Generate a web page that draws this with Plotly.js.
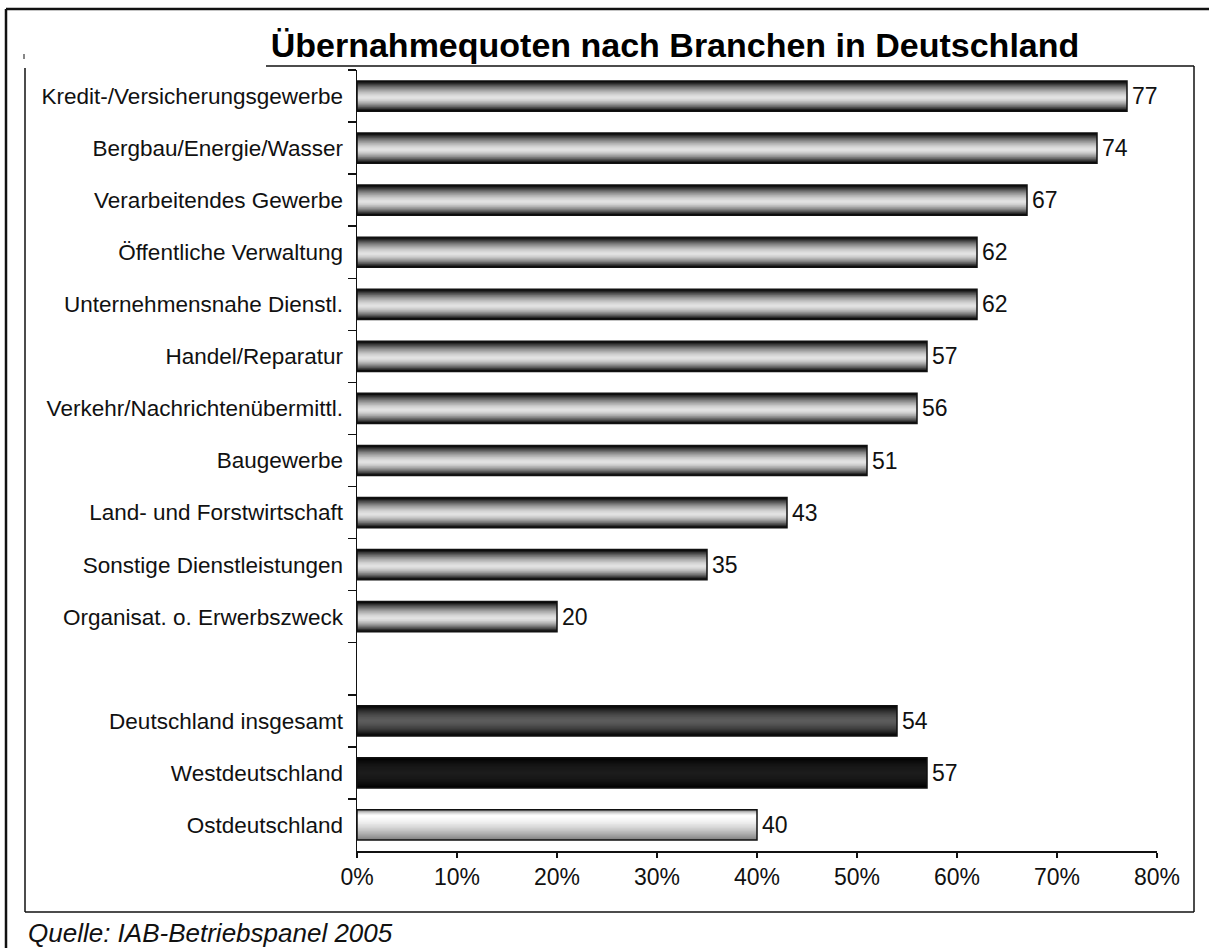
<!DOCTYPE html>
<html>
<head>
<meta charset="utf-8">
<script src="https://cdn.plot.ly/plotly-3.0.1.min.js"></script>
<style>html,body{margin:0;padding:0;background:#fff;}#chart{width:1209px;height:948px;}</style>
</head>
<body>
<div id="chart"></div>
<script>
// ---- data ----
const categories = [
  "Kredit-/Versicherungsgewerbe",
  "Bergbau/Energie/Wasser",
  "Verarbeitendes Gewerbe",
  "Öffentliche Verwaltung",
  "Unternehmensnahe Dienstl.",
  "Handel/Reparatur",
  "Verkehr/Nachrichtenübermittl.",
  "Baugewerbe",
  "Land- und Forstwirtschaft",
  "Sonstige Dienstleistungen",
  "Organisat. o. Erwerbszweck",
  " ",
  "Deutschland insgesamt",
  "Westdeutschland",
  "Ostdeutschland"
];
const values = [77, 74, 67, 62, 62, 57, 56, 51, 43, 35, 20, null, 54, 57, 40];
const groups = ["branch","branch","branch","branch","branch","branch","branch","branch","branch","branch","branch","none","total","west","east"];
const titleText = "Übernahmequoten nach Branchen in Deutschland";
const sourceText = "Quelle: IAB-Betriebspanel 2005";

// ---- styles ----
// edge/center colours, easing power, and position of the light band (0 = top, 1 = bottom)
const gradients = {
  branch: {edge:[0,0,0], center:[228,228,228], pow:1.6, at:0.55},
  total:  {edge:[0,0,0], center:[92,92,92], pow:1.8, at:0.5},
  west:   {edge:[0,0,0], center:[28,28,28], pow:2, at:0.5},
  east:   {edge:[130,130,130], center:[255,255,255], pow:1.6, at:0.2},
  none:   {edge:[255,255,255], center:[255,255,255], pow:1, at:0.5}
};
const BAR_W = 0.58;
const LAYERS = 20;
const FONT = "Liberation Sans, Arial, sans-serif";

function mix(a, b, f) {
  return "rgb(" + a.map((v, i) => Math.round(v + (b[i] - v) * f)).join(",") + ")";
}

const traces = [];
for (let k = 0; k < LAYERS; k++) {
  const s = k / LAYERS;
  const w = BAR_W * (1 - s);
  const colors = groups.map(g => {
    const gr = gradients[g];
    const f = 1 - Math.pow(1 - s, gr.pow);
    return mix(gr.edge, gr.center, f);
  });
  const offsets = groups.map(g => -BAR_W / 2 + s * gradients[g].at * BAR_W);
  traces.push({
    type: "bar", orientation: "h",
    x: values, y: categories,
    width: w, offset: offsets,
    marker: {color: colors, line: {width: 0}},
    hoverinfo: "skip", showlegend: false
  });
}
// outline + value labels on top
traces.push({
  type: "bar", orientation: "h",
  x: values, y: categories,
  width: BAR_W,
  marker: {color: "rgba(0,0,0,0)", line: {width: 1.5, color: "#111"}},
  text: values.map(v => v == null ? "" : "\u200A" + String(v)),
  textposition: "outside",
  textfont: {family: FONT, size: 23, color: "#111"},
  cliponaxis: false,
  hoverinfo: "skip", showlegend: false
});

// pixel -> paper helpers (plot area 357..1157 x 70..851)
const PL = 357, PW = 800, PT = 70, PH = 781;
const px = p => (p - PL) / PW;
const py = p => (PT + PH - p) / PH;
function line(x0, y0, x1, y1, w) {
  return {type: "line", xref: "paper", yref: "paper",
    x0: px(x0), y0: py(y0), x1: px(x1), y1: py(y1),
    line: {color: "#111", width: w}};
}

const layout = {
  width: 1209, height: 948,
  paper_bgcolor: "#fff", plot_bgcolor: "#fff",
  margin: {l: PL, r: 1209 - PL - PW, t: PT, b: 948 - PT - PH},
  barmode: "overlay",
  title: {
    text: "<b>" + titleText + "</b>",
    font: {family: FONT, size: 34, color: "#000"},
    xref: "container", yref: "container",
    x: 675 / 1209, xanchor: "center",
    y: 1 - 45 / 948, yanchor: "middle"
  },
  xaxis: {
    range: [0, 80], dtick: 10, tick0: 0, ticksuffix: "%",
    showgrid: false, zeroline: false,
    showline: true, linecolor: "#111", linewidth: 1.5,
    ticks: "outside", ticklen: 5, tickwidth: 1.5, tickcolor: "#111",
    tickfont: {family: FONT, size: 23, color: "#111"}
  },
  yaxis: {
    type: "category", categoryorder: "array", categoryarray: categories,
    range: [categories.length - 0.5, -0.5],
    showgrid: false, zeroline: false,
    showline: true, linecolor: "#111", linewidth: 1.5,
    ticks: "outside", tickson: "boundaries", ticklen: 8, tickwidth: 1.5, tickcolor: "#111",
    ticklabelstandoff: 8,
    tickfont: {family: FONT, size: 22.5, color: "#111"}
  },
  shapes: [
    line(6, 9, 1209, 9, 2.5),
    line(6, 9, 6, 948, 2.5),
    line(25, 68, 25, 912, 1.5),
    line(25, 912, 1194, 912, 1.5),
    line(1194, 66, 1194, 912, 1.5),
    line(266, 66, 1194, 66, 1.5),
    line(24, 54, 24, 59, 1)
  ],
  annotations: [{
    text: "<i>" + sourceText + "</i>",
    xref: "paper", yref: "paper",
    x: px(26), y: py(933), xanchor: "left", yanchor: "middle",
    showarrow: false,
    font: {family: FONT, size: 26, color: "#111"}
  }]
};

Plotly.newPlot("chart", traces, layout, {staticPlot: true, displayModeBar: false});
</script>
</body>
</html>
